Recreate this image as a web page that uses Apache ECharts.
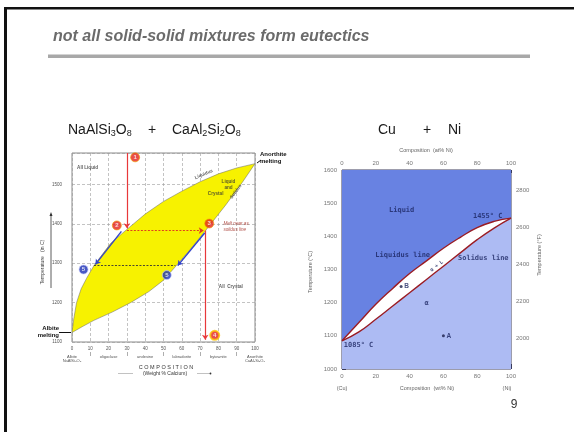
<!DOCTYPE html>
<html><head><meta charset="utf-8">
<script src="https://cdn.jsdelivr.net/npm/echarts@6/dist/echarts.min.js"></script>
<style>html,body{margin:0;padding:0;background:#fff}#c{width:574px;height:432px}</style>
</head><body><div id="c"></div><script>
// ---- Data: plagioclase (albite - anorthite), composition wt% Ca vs temperature °C
const abLiquidus = [[0,1124],[1,1160],[2.5,1200],[5,1235],[8,1262],[12,1294],[21,1350],[30,1386],[40,1425],[50,1457],[60,1483],[70,1507],[80,1527],[90,1542],[100,1553]];
const abSolidus  = [[0,1124],[6,1140],[12,1155],[22,1176],[32,1200],[42,1228],[50,1257],[57,1294],[65,1337],[73,1383],[84,1448],[93,1505],[100,1553]];
const mineralNames = {0:'Albite\nNaAlSi₃O₈',20:'oligoclase',40:'andesine',60:'labradorite',80:'bytownite',100:'Anorthite\nCaAl₂Si₂O₈'};
const mineralSeparators = [10,30,50,70,90];
// cooling path arrows [from, to]
const redPath = [[[30,1580],[30,1389]],[[72.8,1383],[72.8,1106]]];
const redDashed = [[[30,1383],[72,1383]]];
const bluePath = [[[27,1381],[12.8,1297]],[[72.5,1377],[57.8,1294]]];
const blackDashed = [[[12,1294],[56.5,1294]]];
const redSteps = [['1',34.5,1569],['2',24.5,1396],['3',75,1401],['4',78,1117]];
const blueSteps = [['5',6.3,1284],['5',51.8,1270]];
// ---- Data: Cu - Ni, composition wt% Ni vs temperature °C
const cuniLiquidus = [[0,1085],[10,1140],[20,1195],[30,1243],[40,1288],[50,1326],[60,1364],[70,1397],[80,1426],[90,1445],[100,1455]];
const cuniSolidus  = [[0,1085],[10,1112],[20,1150],[30,1190],[40,1230],[50,1270],[60,1310],[70,1350],[80,1390],[90,1425],[100,1455]];
const cuniPoints = [['B',35,1249],['A',60,1100]];
const fahrenheitLabels = [2000,2200,2400,2600,2800];
const fahrenheitTicks = [1900,2000,2100,2200,2300,2400,2500,2600,2700,2800,2900];

const chart = echarts.init(document.getElementById('c'), null, {renderer:'canvas'});
const SANS = 'Liberation Sans, Arial, sans-serif';
const MONO = 'DejaVu Sans Mono, monospace';
const plain = function(v){ return String(v); };

function polygon(pts, fill, stroke, lw, xi, yi, z){
  return {type:'custom', xAxisIndex:xi, yAxisIndex:yi, z:z, silent:true, clip:true,
    data:[[pts[0][0], pts[0][1]]],
    renderItem:function(params, api){
      return {type:'polygon', shape:{points: pts.map(function(p){return api.coord(p);})},
        style:{fill:fill, stroke:stroke||'none', lineWidth:lw||0}};
    }};
}
function arrows(list, color, width, type, xi, yi, sym){
  return {type:'lines', coordinateSystem:'cartesian2d', xAxisIndex:xi, yAxisIndex:yi, z:5, silent:true,
    symbol: sym || ['none','arrow'], symbolSize:5,
    lineStyle:{color:color, width:width, type:type||'solid', opacity:1},
    data:list.map(function(c){return {coords:c};})};
}
function labels(list, xi, yi, style){
  return {type:'scatter', xAxisIndex:xi, yAxisIndex:yi, symbolSize:0, z:6, silent:true,
    data:list.map(function(t){return {value:[t[1],t[2]], label:Object.assign({formatter:t[0]}, t[3]||{})};}),
    label:Object.assign({show:true, position:'inside'}, style)};
}

const lensAb = abLiquidus.concat(abSolidus.slice().reverse());
const liquidRegion = cuniLiquidus.concat([[100,1600],[0,1600]]);
const alphaRegion = cuniSolidus.concat([[100,1000],[0,1000]]);
const lensCuNi = cuniLiquidus.concat(cuniSolidus.slice().reverse());

const option = {
  backgroundColor:'#fff',
  animation:false,
  grid:[
    {left:72, top:153, width:183, height:189, show:true, borderColor:'#8a8a8a', borderWidth:1, backgroundColor:'transparent'},
    {left:342, top:170, width:169, height:199, show:true, borderColor:'#3a3a5a', borderWidth:1, backgroundColor:'transparent'}
  ],
  xAxis:[
    {type:'value', gridIndex:0, min:0, max:100, interval:10,
      axisLine:{show:false}, axisTick:{show:false},
      axisLabel:{fontSize:4.5, color:'#555', margin:4, fontFamily:SANS, formatter:plain},
      splitLine:{show:true, lineStyle:{color:'#9a9a9a', type:[3,2], width:0.6}}},
    {type:'value', gridIndex:0, min:0, max:100, interval:20, position:'bottom', offset:10,
      axisLine:{show:false},
      axisTick:{show:true, customValues:mineralSeparators, length:4, lineStyle:{color:'#777', width:0.6}},
      axisLabel:{fontSize:4, color:'#555', margin:2, fontFamily:SANS, lineHeight:4.8,
        formatter:function(v){return mineralNames[v]||'';}},
      splitLine:{show:false}},
    {type:'value', gridIndex:1, min:0, max:100, interval:20, position:'bottom',
      axisLine:{show:false},
      axisTick:{show:true, inside:true, length:5, lineStyle:{color:'#3a3a5a'}},
      minorTick:{show:true, splitNumber:2, length:3, lineStyle:{color:'#3a3a5a'}},
      axisLabel:{fontSize:6, color:'#777', margin:4, fontFamily:SANS, formatter:plain},
      splitLine:{show:false}},
    {type:'value', gridIndex:1, min:0, max:100, interval:20, position:'top',
      axisLine:{show:false},
      axisTick:{show:true, inside:true, length:3, lineStyle:{color:'#3a3a5a'}},
      minorTick:{show:true, splitNumber:2, length:2, lineStyle:{color:'#3a3a5a'}},
      axisLabel:{fontSize:6, color:'#777', margin:4, fontFamily:SANS, formatter:plain},
      splitLine:{show:false}}
  ],
  yAxis:[
    {type:'value', gridIndex:0, min:1100, max:1580, interval:100,
      axisLine:{show:false}, axisTick:{show:false},
      axisLabel:{fontSize:4.5, color:'#555', margin:10, fontFamily:SANS, showMaxLabel:false, formatter:plain},
      splitLine:{show:true, lineStyle:{color:'#9a9a9a', type:[3,2], width:0.6}}},
    {type:'value', gridIndex:1, min:1000, max:1600, interval:100,
      axisLine:{show:false},
      axisTick:{show:true, inside:true, length:4, lineStyle:{color:'#3a3a5a'}},
      axisLabel:{fontSize:6, color:'#777', margin:5, fontFamily:SANS, formatter:plain},
      splitLine:{show:false}},
    {type:'value', gridIndex:1, min:1832, max:2912, position:'right',
      axisLine:{show:false},
      axisTick:{show:true, inside:false, length:4, customValues:fahrenheitTicks, lineStyle:{color:'#999'}},
      axisLabel:{fontSize:6, color:'#777', margin:5, fontFamily:SANS, customValues:fahrenheitLabels, formatter:plain},
      splitLine:{show:false}}
  ],
  series:[
    polygon(lensAb, '#f7f200', '#666', 0.5, 0, 0, 2),
    arrows(redPath, '#e8383a', 1.2, 'solid', 0, 0),
    arrows(redDashed, '#e0401c', 1, [2,1.5], 0, 0),
    arrows(bluePath, '#3444c8', 1.4, 'solid', 0, 0),
    arrows(blackDashed, '#333', 0.9, [2,1.5], 0, 0, ['none','none']),
    {type:'scatter', xAxisIndex:0, yAxisIndex:0, z:7, silent:true, symbolSize:9,
      itemStyle:{color:'#e3231d', borderColor:'#f5a000', borderWidth:0.8},
      data:redSteps.map(function(s){return {name:s[0], value:[s[1],s[2]],
        itemStyle: s[0]==='4' ? {borderColor:'#ffc400', borderWidth:2} : undefined};}),
      label:{show:true, position:'inside', formatter:'{b}', color:'#fff', fontSize:6, fontWeight:'bold', fontFamily:SANS}},
    {type:'scatter', xAxisIndex:0, yAxisIndex:0, z:7, silent:true, symbolSize:9,
      itemStyle:{color:'#1c2fb5', borderColor:'#c9d0ff', borderWidth:0.8},
      data:blueSteps.map(function(s){return {name:s[0], value:[s[1],s[2]]};}),
      label:{show:true, position:'inside', formatter:'{b}', color:'#fff', fontSize:6, fontWeight:'bold', fontFamily:SANS}},
    labels([
      ['All Liquid', 8.5, 1542],
      ['Liquidus', 72, 1526, {rotate:23}],
      ['Liquid', 85.5, 1508],
      ['and', 85.5, 1493],
      ['Crystal', 78.5, 1476],
      ['Solidus', 89.5, 1482, {rotate:54}],
      ['All  Crystal', 86.8, 1240]
    ], 0, 0, {fontSize:4.6, fontWeight:'bold', color:'#333', fontFamily:SANS}),
    labels([
      ['Melt near as', 80, 1401, {position:'right'}],
      ['solidus line', 80, 1384, {position:'right'}]
    ], 0, 0, {fontSize:4.6, fontStyle:'italic', color:'#9a1a10', fontFamily:SANS}),
    // Cu - Ni
    polygon(liquidRegion, '#6882e2', null, 0, 2, 1, 1),
    polygon(alphaRegion, '#adbbf3', null, 0, 2, 1, 1),
    polygon(lensCuNi, '#ffffff', null, 0, 2, 1, 2),
    {type:'line', xAxisIndex:2, yAxisIndex:1, data:cuniLiquidus, smooth:true, symbol:'none', z:3, silent:true,
      lineStyle:{color:'#9a1c24', width:1.4}},
    {type:'line', xAxisIndex:2, yAxisIndex:1, data:cuniSolidus, smooth:true, symbol:'none', z:3, silent:true,
      lineStyle:{color:'#9a1c24', width:1.4}},
    {type:'scatter', xAxisIndex:2, yAxisIndex:1, z:7, silent:true, symbolSize:3, itemStyle:{color:'#1a1f4a'},
      data:cuniPoints.map(function(p){return {name:p[0], value:[p[1],p[2]]};}),
      label:{show:true, position:'right', distance:1.5, formatter:'{b}', fontSize:6.5, fontWeight:'bold', color:'#1a2460', fontFamily:SANS}},
    labels([
      ['Liquid', 35.3, 1480],
      ['1455° C', 86.2, 1462],
      ['Liquidus line', 35.9, 1344],
      ['Solidus line', 83.6, 1334],
      ['α', 50, 1197],
      ['α + L', 56, 1310, {rotate:37, fontSize:5}],
      ['1085° C', 9.8, 1073]
    ], 2, 1, {fontSize:7, fontWeight:'bold', color:'#1a2460', fontFamily:MONO})
  ],
  graphic:[
    {type:'rect', shape:{x:4, y:7, width:3, height:425}, style:{fill:'#111'}, silent:true},
    {type:'rect', shape:{x:4, y:7, width:570, height:2.5}, style:{fill:'#111'}, silent:true},
    {type:'text', x:53, y:36.5, style:{text:'not all solid-solid mixtures form eutectics', fill:'#6b6b6b',
      font:'italic bold 16px Liberation Sans, Arial, sans-serif', verticalAlign:'middle'}},
    {type:'rect', shape:{x:48, y:54.5, width:482, height:3.5}, style:{fill:'#a8a8a8'}, silent:true},
    {type:'text', x:68, y:130, style:{
      text:'NaAlSi{s|3}O{s|8}', fill:'#1a1a1a',
      font:'14px Liberation Sans, Arial, sans-serif', verticalAlign:'middle',
      rich:{s:{fontSize:9, fill:'#1a1a1a', fontFamily:'Liberation Sans', padding:[7,0,0,0]}}}},
    {type:'text', x:152, y:130, style:{text:'+', fill:'#1a1a1a',
      font:'14px Liberation Sans, Arial, sans-serif', align:'center', verticalAlign:'middle'}},
    {type:'text', x:172, y:130, style:{
      text:'CaAl{s|2}Si{s|2}O{s|8}', fill:'#1a1a1a',
      font:'14px Liberation Sans, Arial, sans-serif', verticalAlign:'middle',
      rich:{s:{fontSize:9, fill:'#1a1a1a', fontFamily:'Liberation Sans', padding:[7,0,0,0]}}}},
    {type:'text', x:378, y:130, style:{text:'Cu', fill:'#1a1a1a',
      font:'14px Liberation Sans, Arial, sans-serif', verticalAlign:'middle'}},
    {type:'text', x:427, y:130, style:{text:'+', fill:'#1a1a1a',
      font:'14px Liberation Sans, Arial, sans-serif', align:'center', verticalAlign:'middle'}},
    {type:'text', x:448, y:130, style:{text:'Ni', fill:'#1a1a1a',
      font:'14px Liberation Sans, Arial, sans-serif', verticalAlign:'middle'}},
    {type:'text', x:514, y:405, style:{text:'9', fill:'#333', font:'12px Liberation Sans, Arial, sans-serif',
      align:'center', verticalAlign:'middle'}},
    // left chart outer labels
    {type:'text', x:260, y:158, style:{text:'Anorthite\nmelting', fill:'#111', lineHeight:6.5,
      font:'bold 6px Liberation Sans, Arial, sans-serif', verticalAlign:'middle'}},
    {type:'line', shape:{x1:261, y1:160, x2:257, y2:163}, style:{stroke:'#111', lineWidth:1}},
    {type:'text', x:59, y:332, style:{text:'Albite\nmelting', fill:'#111', lineHeight:6.5,
      font:'bold 6px Liberation Sans, Arial, sans-serif', align:'right', verticalAlign:'middle'}},
    {type:'line', shape:{x1:59, y1:332.5, x2:71, y2:332.5}, style:{stroke:'#111', lineWidth:1}},
    {type:'text', x:43, y:262, rotation:Math.PI/2, style:{text:'Temperature   (in C)', fill:'#444',
      font:'5px Liberation Sans, Arial, sans-serif', align:'center', verticalAlign:'middle'}},
    {type:'line', shape:{x1:51, y1:288, x2:51, y2:214}, style:{stroke:'#333', lineWidth:0.8}},
    {type:'polygon', shape:{points:[[49.5,216],[52.5,216],[51,212]]}, style:{fill:'#333'}},
    {type:'text', x:166, y:367, style:{text:'C O M P O S I T I O N', fill:'#333',
      font:'5.5px Liberation Sans, Arial, sans-serif', align:'center', verticalAlign:'middle'}},
    {type:'text', x:165, y:373.5, style:{text:'(Weight % Calcium)', fill:'#333',
      font:'5px Liberation Sans, Arial, sans-serif', align:'center', verticalAlign:'middle'}},
    {type:'line', shape:{x1:118, y1:373.5, x2:133, y2:373.5}, style:{stroke:'#999', lineWidth:0.6}},
    {type:'line', shape:{x1:197, y1:373.5, x2:210, y2:373.5}, style:{stroke:'#999', lineWidth:0.6}},
    {type:'circle', shape:{cx:210.5, cy:373.5, r:0.9}, style:{fill:'#333'}},
    // right chart axis titles
    {type:'text', x:426, y:150, style:{text:'Composition  (at% Ni)', fill:'#666',
      font:'5.5px Liberation Sans, Arial, sans-serif', align:'center', verticalAlign:'middle'}},
    {type:'text', x:310, y:272, rotation:Math.PI/2, style:{text:'Temperature (°C)', fill:'#666',
      font:'5.5px Liberation Sans, Arial, sans-serif', align:'center', verticalAlign:'middle'}},
    {type:'text', x:539, y:255, rotation:Math.PI/2, style:{text:'Temperature (°F)', fill:'#666',
      font:'5.5px Liberation Sans, Arial, sans-serif', align:'center', verticalAlign:'middle'}},
    {type:'text', x:342, y:388.5, style:{text:'(Cu)', fill:'#666',
      font:'5.5px Liberation Sans, Arial, sans-serif', align:'center', verticalAlign:'middle'}},
    {type:'text', x:427, y:388.5, style:{text:'Composition  (wt% Ni)', fill:'#666',
      font:'5.5px Liberation Sans, Arial, sans-serif', align:'center', verticalAlign:'middle'}},
    {type:'text', x:507, y:388.5, style:{text:'(Ni)', fill:'#666',
      font:'5.5px Liberation Sans, Arial, sans-serif', align:'center', verticalAlign:'middle'}}
  ]
};
chart.setOption(option);
</script></body></html>
